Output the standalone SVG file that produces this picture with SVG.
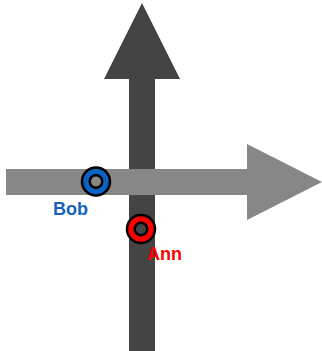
<svg xmlns="http://www.w3.org/2000/svg" width="322" height="351" viewBox="0 0 322 351">
<style>
.lbl{font-family:"Liberation Sans",Arial,sans-serif;font-weight:bold;font-size:18px}
.edge{fill:none;stroke:#000;stroke-width:2.5}
.ring{fill:none;stroke-width:7}
</style>
<rect width="322" height="351" fill="#fff"/>
<g id="connectors">
<path id="vertical-axis" d="M129,351 V79 H104 L142,3 L180,79 H155 V351 Z" fill="#444444"/>
<path id="horizontal-axis" d="M6,169 H247 V144 L322,182 L247,220 V195 H6 Z" fill="#878787"/>
</g>
<g id="bob">
<circle class="ring" cx="96" cy="181.5" r="10" stroke="#0a62c4"/>
<circle class="edge" cx="96" cy="181.5" r="14"/>
<circle class="edge" cx="96" cy="181.5" r="6.3"/>
<text class="lbl" x="53" y="214.5" fill="#1762bf">Bob</text>
</g>
<g id="ann">
<circle class="ring" cx="141" cy="229" r="10" stroke="#ff0000"/>
<circle class="edge" cx="141" cy="229" r="14"/>
<circle class="edge" cx="141" cy="229" r="6.3"/>
<text class="lbl" x="147" y="259.5" fill="#ff0000">Ann</text>
</g>
</svg>
